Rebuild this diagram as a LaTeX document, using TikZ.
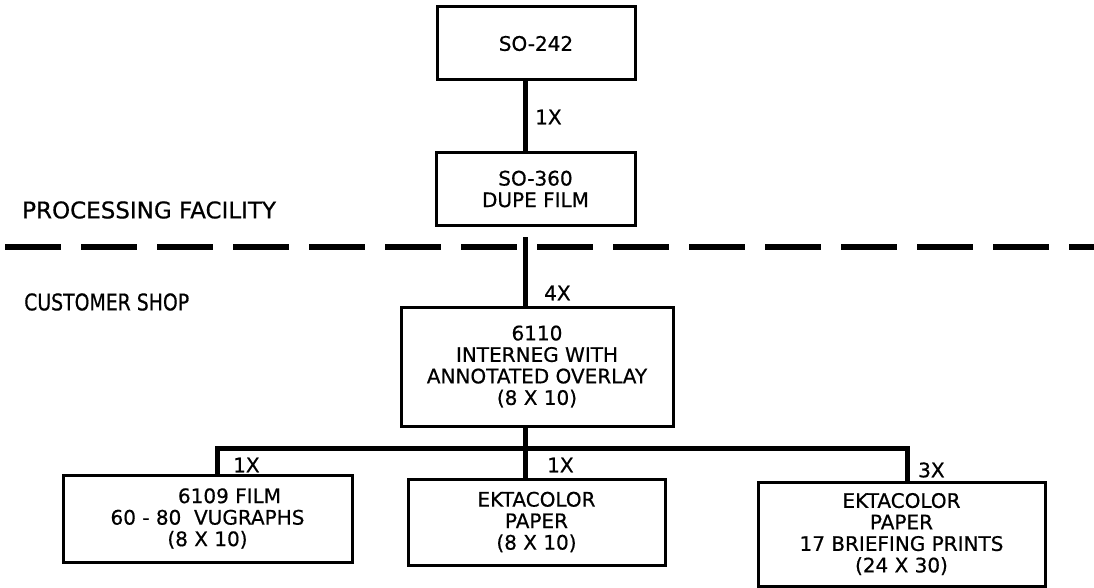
\documentclass[tikz,border=0pt]{standalone}
\usepackage{fontspec}
\setmainfont{DejaVu Sans}[FakeBold=0.6]
\newfontfamily\narrowfont{DejaVu Sans}[FakeStretch=0.82,FakeBold=0.6]
\begin{document}
\begin{tikzpicture}[x=1pt,y=-1pt,
  every node/.style={font=\fontsize{20pt}{21.5pt}\selectfont},
  box/.style={draw,line width=3pt,rectangle,inner sep=0pt,align=center,line join=miter},
  conn/.style={line width=5pt},
  lbl/.style={anchor=west,inner sep=0pt},
  sep/.style={line width=6pt,dash pattern=on 56pt off 20pt},
  region/.style={anchor=west,inner sep=0pt,font=\fontsize{23pt}{25pt}\selectfont}]
\useasboundingbox (0,0) rectangle (1094,588);
% boxes
\node[box,minimum width=198pt,minimum height=73pt] (b1) at (536,43.5) {\raisebox{-8pt}{SO-242}};
\node[box,minimum width=199pt,minimum height=72pt] (b2) at (535.5,189) {\raisebox{-5pt}{\parbox{190pt}{\centering SO-360\\DUPE FILM}}};
\node[box,minimum width=272pt,minimum height=119pt] (b3) at (537,366.5) {6110\\INTERNEG WITH\\ANNOTATED OVERLAY\\(8 X 10)};
\node[box,minimum width=289pt,minimum height=87pt] (b4) at (207.5,518.5) {\raisebox{-3.5pt}{\parbox{280pt}{\centering \hspace*{44pt}6109 FILM\\60 - 80\ \ VUGRAPHS\hspace*{14pt}\\(8 X 10)}}};
\node[box,minimum width=257pt,minimum height=86pt] (b5) at (536.5,522) {\raisebox{3pt}{\parbox{250pt}{\centering EKTACOLOR\\PAPER\\(8 X 10)}}};
\node[box,minimum width=287pt,minimum height=104pt] (b6) at (901.5,534) {EKTACOLOR\\PAPER\\17 BRIEFING PRINTS\\(24 X 30)};
% region labels
\node[region] (pf) at (22,210) {PROCESSING FACILITY};
\node[region] (cs) at (24,302) {\narrowfont CUSTOMER SHOP};
% separator
\coordinate (sepL) at (5,247);
\coordinate (sepR) at (1094,247);
\draw[sep] (sepL) -- (sepR);
% spine
\coordinate (spine) at (525,0);
\coordinate (top4) at (525,237);
\coordinate (busL) at (217,448);
\coordinate (busR) at (907,448);
\draw[conn] (b1.south -| spine) -- (b2.north -| spine);
\draw[conn] (top4) -- (top4 |- b3.north);
\draw[conn] (b3.south -| spine) -- (b5.north -| spine);
\draw[line width=5pt,line join=miter] (b4.north -| busL) -- (busL) -- (busR) -- (b6.north -| busR);
% multiplier labels
\node[lbl] (m1) at (535,117) {1X};
\node[lbl] (m4) at (544,293) {4X};
\node[lbl] (m5) at (233,465) {1X};
\node[lbl] (m6) at (547,465) {1X};
\node[lbl] (m7) at (918,470) {3X};
\end{tikzpicture}
\end{document}
